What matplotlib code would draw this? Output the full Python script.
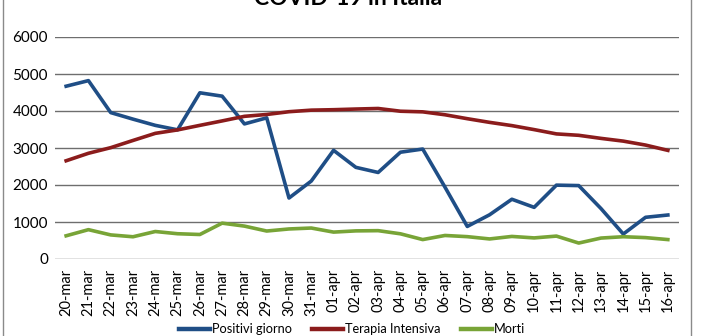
import matplotlib
matplotlib.use('Agg')
import matplotlib.pyplot as plt
from matplotlib.patches import Rectangle

plt.rcParams['font.family'] = ['Lato', 'DejaVu Sans']

giorni = ['20-mar', '21-mar', '22-mar', '23-mar', '24-mar', '25-mar', '26-mar',
          '27-mar', '28-mar', '29-mar', '30-mar', '31-mar', '01-apr', '02-apr',
          '03-apr', '04-apr', '05-apr', '06-apr', '07-apr', '08-apr', '09-apr',
          '10-apr', '11-apr', '12-apr', '13-apr', '14-apr', '15-apr', '16-apr']

positivi = [4670, 4821, 3957, 3780, 3612, 3491, 4492, 4401, 3651, 3815, 1648,
            2107, 2937, 2477, 2339, 2886, 2972, 1941, 880, 1195, 1615, 1396,
            1996, 1984, 1363, 675, 1127, 1189]
terapia = [2655, 2857, 3009, 3204, 3396, 3489, 3612, 3732, 3856, 3906, 3981,
           4023, 4035, 4053, 4068, 3994, 3977, 3898, 3792, 3693, 3605, 3497,
           3381, 3343, 3260, 3186, 3079, 2936]
morti = [627, 793, 651, 601, 743, 683, 662, 969, 889, 756, 812, 837, 727, 760,
         766, 681, 525, 636, 604, 542, 610, 570, 619, 431, 566, 602, 578, 525]

fig = plt.figure(figsize=(7.02, 3.36), dpi=100)
ax = fig.add_axes([55/702, 1-259/336, (679-55)/702, (259-37)/336])

x = range(len(giorni))
ax.plot(x, positivi, color='#1f4e86', lw=2.6, label='Positivi giorno')
ax.plot(x, terapia, color='#8b1c1c', lw=2.6, label='Terapia Intensiva')
ax.plot(x, morti, color='#78a437', lw=2.6, label='Morti')

ax.set_xlim(-0.5, len(giorni)-0.5)
ax.set_ylim(0, 6000)
ax.set_yticks(range(0, 6001, 1000))
ax.yaxis.grid(True, color='#6e6e6e', lw=1)
ax.set_axisbelow(True)
for s in ax.spines.values():
    s.set_visible(False)
ax.set_xticks(list(x))
ax.set_xticklabels(giorni, rotation=90, fontsize=10.5)
ax.tick_params(axis='both', length=0, labelsize=11)
ax.tick_params(axis='x', pad=7, labelsize=10.5)
ax.tick_params(axis='y', pad=5)

fig.text(348/702, 1-5/336, 'COVID-19 in Italia', ha='center', va='baseline',
         fontsize=16.5, fontweight='bold')

leg = fig.legend(loc='center', bbox_to_anchor=(352/702, 1-329/336), ncol=3,
                 frameon=False, fontsize=9.2, handlelength=2.4,
                 handletextpad=0.15, columnspacing=1.6, borderpad=0)
for h in leg.get_lines():
    h.set_linewidth(3.2)

# cornice grigia attorno al grafico
fig.patches.append(Rectangle((3/702, -0.1), (691-3)/702, 1.2,
                             transform=fig.transFigure, fill=False,
                             edgecolor='#8a8a8a', lw=1))

fig.savefig('out.png', dpi=100)
